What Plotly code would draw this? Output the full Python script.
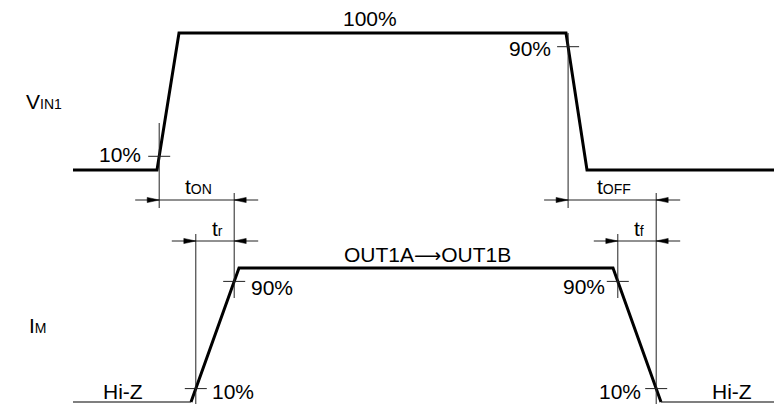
import plotly.graph_objects as go

W, H = 782, 404
OFF = 8  # page body margin: figure origin sits at (8, 8) in the window

# ---------------- data ----------------
vin_t = [73, 157, 179, 566, 587, 790]
vin_level = [0, 0, 1, 1, 0, 0]
im_t = [73, 191, 239, 613, 661, 790]
im_level = [0, 0, 1, 1, 0, 0]
im_driven = [False, True, True, True, False]   # per segment: driven (thick) or Hi-Z (thin)
thresholds = [0.1, 0.9]
threshold_labels = ["10%", "90%"]
timing_labels = ["t<span style='font-size:14px'>ON</span>",
                 "t<span style='font-size:14px'>OFF</span>",
                 "t<span style='font-size:14px'>r</span>",
                 "t<span style='font-size:14px'>f</span>"]
vin_name = "V<span style='font-size:14px'>IN1</span>"
im_name = "I<span style='font-size:14px'>M</span>"
vin_high_label = "100%"
im_high_label = "OUT1A<span style='font-family:DejaVu Sans;font-size:19px'>⟶</span>OUT1B"
hiz_label = "Hi-Z"

# ---------------- helpers ----------------
FONT = "Liberation Sans, Arial, Helvetica, sans-serif"
FS = 21
BLACK = "#000000"
THIN = "#222222"


def pp(py):
    """window pixel row -> paper fraction"""
    return 1 - (py - OFF) / H


def cross(t, lv, i, frac):
    t0, t1 = t[i], t[i + 1]
    l0, l1 = lv[i], lv[i + 1]
    return t0 + (frac - l0) / (l1 - l0) * (t1 - t0)


fig = go.Figure()

# VIN waveform
fig.add_trace(go.Scatter(x=vin_t, y=vin_level, mode="lines", yaxis="y",
                         line=dict(color=BLACK, width=3), hoverinfo="skip"))

# IM waveform: thin Hi-Z segments, thick driven segments
drv_x, drv_y = [], []
for i, d in enumerate(im_driven):
    if d:
        if not drv_x:
            drv_x.append(im_t[i]); drv_y.append(im_level[i])
        drv_x.append(im_t[i + 1]); drv_y.append(im_level[i + 1])
    else:
        fig.add_trace(go.Scatter(x=[im_t[i], im_t[i + 1]], y=[im_level[i], im_level[i + 1]],
                                 mode="lines", yaxis="y2",
                                 line=dict(color="#555555", width=1.3), hoverinfo="skip"))
fig.add_trace(go.Scatter(x=drv_x, y=drv_y, mode="lines", yaxis="y2",
                         line=dict(color=BLACK, width=3), hoverinfo="skip"))

# crossings
xA = cross(vin_t, vin_level, 1, thresholds[0])   # VIN rise 10%
xB = cross(vin_t, vin_level, 3, thresholds[1])   # VIN fall 90%
xC = cross(im_t, im_level, 1, thresholds[0])     # IM rise 10%
xD = cross(im_t, im_level, 1, thresholds[1])     # IM rise 90%
xE = cross(im_t, im_level, 3, thresholds[1])     # IM fall 90%
xF = cross(im_t, im_level, 3, thresholds[0])     # IM fall 10%

shapes = []
annotations = []


def txt(x, py, text, xanchor="center", size=FS):
    annotations.append(dict(x=x, y=pp(py), xref="x", yref="paper", text=text,
                            showarrow=False, xanchor=xanchor, yanchor="middle",
                            font=dict(family=FONT, size=size, color=BLACK)))


# threshold ticks
marks = [
    (xA, thresholds[0], "y"),
    (xB, thresholds[1], "y"),
    (xC, thresholds[0], "y2"),
    (xD, thresholds[1], "y2"),
    (xE, thresholds[1], "y2"),
    (xF, thresholds[0], "y2"),
]
for x, lv, yr in marks:
    shapes.append(dict(type="line", xref="x", yref=yr, x0=x - 11, x1=x + 11, y0=lv, y1=lv,
                       line=dict(color=THIN, width=1)))

# threshold labels
txt(xA - 16, 154, threshold_labels[0], "right")
txt(xB - 15, 49, threshold_labels[1], "right")
txt(xC + 14, 391, threshold_labels[0], "left")
txt(xD + 15, 287, threshold_labels[1], "left")
txt(xE - 11, 286, threshold_labels[1], "right")
txt(xF - 13, 391, threshold_labels[0], "right")

# vertical extension lines
ext = [(xA, 123, 208), (xB, 33, 208), (xC, 234, 404),
       (xD, 193, 298), (xE, 234, 298), (xF, 193, 404)]
for x, p0, p1 in ext:
    shapes.append(dict(type="line", xref="x", yref="paper", x0=x, x1=x, y0=pp(p0), y1=pp(p1),
                       line=dict(color=THIN, width=1)))

# dimension arrows
dims = [(timing_labels[0], xA, xD, 200), (timing_labels[1], xB, xF, 200),
        (timing_labels[2], xC, xD, 241), (timing_labels[3], xE, xF, 241)]
AL, AW = 12, 2.6
for lab, x0, x1, py in dims:
    shapes.append(dict(type="line", xref="x", yref="paper", x0=x0 - 24, x1=x1 + 24,
                       y0=pp(py), y1=pp(py), line=dict(color=THIN, width=1)))
    for tip, d in ((x0, -1), (x1, 1)):
        path = (f"M {tip},{pp(py)} L {tip + d * AL},{pp(py - AW)} "
                f"L {tip + d * AL},{pp(py + AW)} Z")
        shapes.append(dict(type="path", xref="x", yref="paper", path=path,
                           fillcolor=BLACK, line=dict(color=BLACK, width=0.5)))
    txt((x0 + x1) / 2 + 2, py - 13, lab)

# other labels
txt((vin_t[2] + vin_t[3]) / 2 - 3, 18, vin_high_label)
txt((im_t[2] + im_t[3]) / 2 + 1, 254, im_high_label)
txt(24, 101, vin_name, "left")
txt(27, 325, im_name, "left")
txt((im_t[0] + im_t[1]) / 2 - 9, 391, hiz_label)
txt(732, 391, hiz_label)

# axes: x in window pixels; VIN level 0 at row 170, level 1 at row 33;
# IM level 0 at row 402, level 1 at row 268
vin_span = 170 - 33
im_span = 402 - 268
top, bot = OFF, OFF + H
fig.update_layout(
    width=W, height=H,
    margin=dict(l=0, r=0, t=0, b=0),
    paper_bgcolor="white", plot_bgcolor="white",
    showlegend=False,
    xaxis=dict(range=[OFF, OFF + W], visible=False, fixedrange=True),
    yaxis=dict(range=[-(bot - 170) / vin_span, 1 + (33 - top) / vin_span],
               visible=False, fixedrange=True),
    yaxis2=dict(range=[-(bot - 402) / im_span, 1 + (268 - top) / im_span], visible=False,
                overlaying="y", fixedrange=True),
    shapes=shapes,
    annotations=annotations,
)

fig.write_html("out.html")
